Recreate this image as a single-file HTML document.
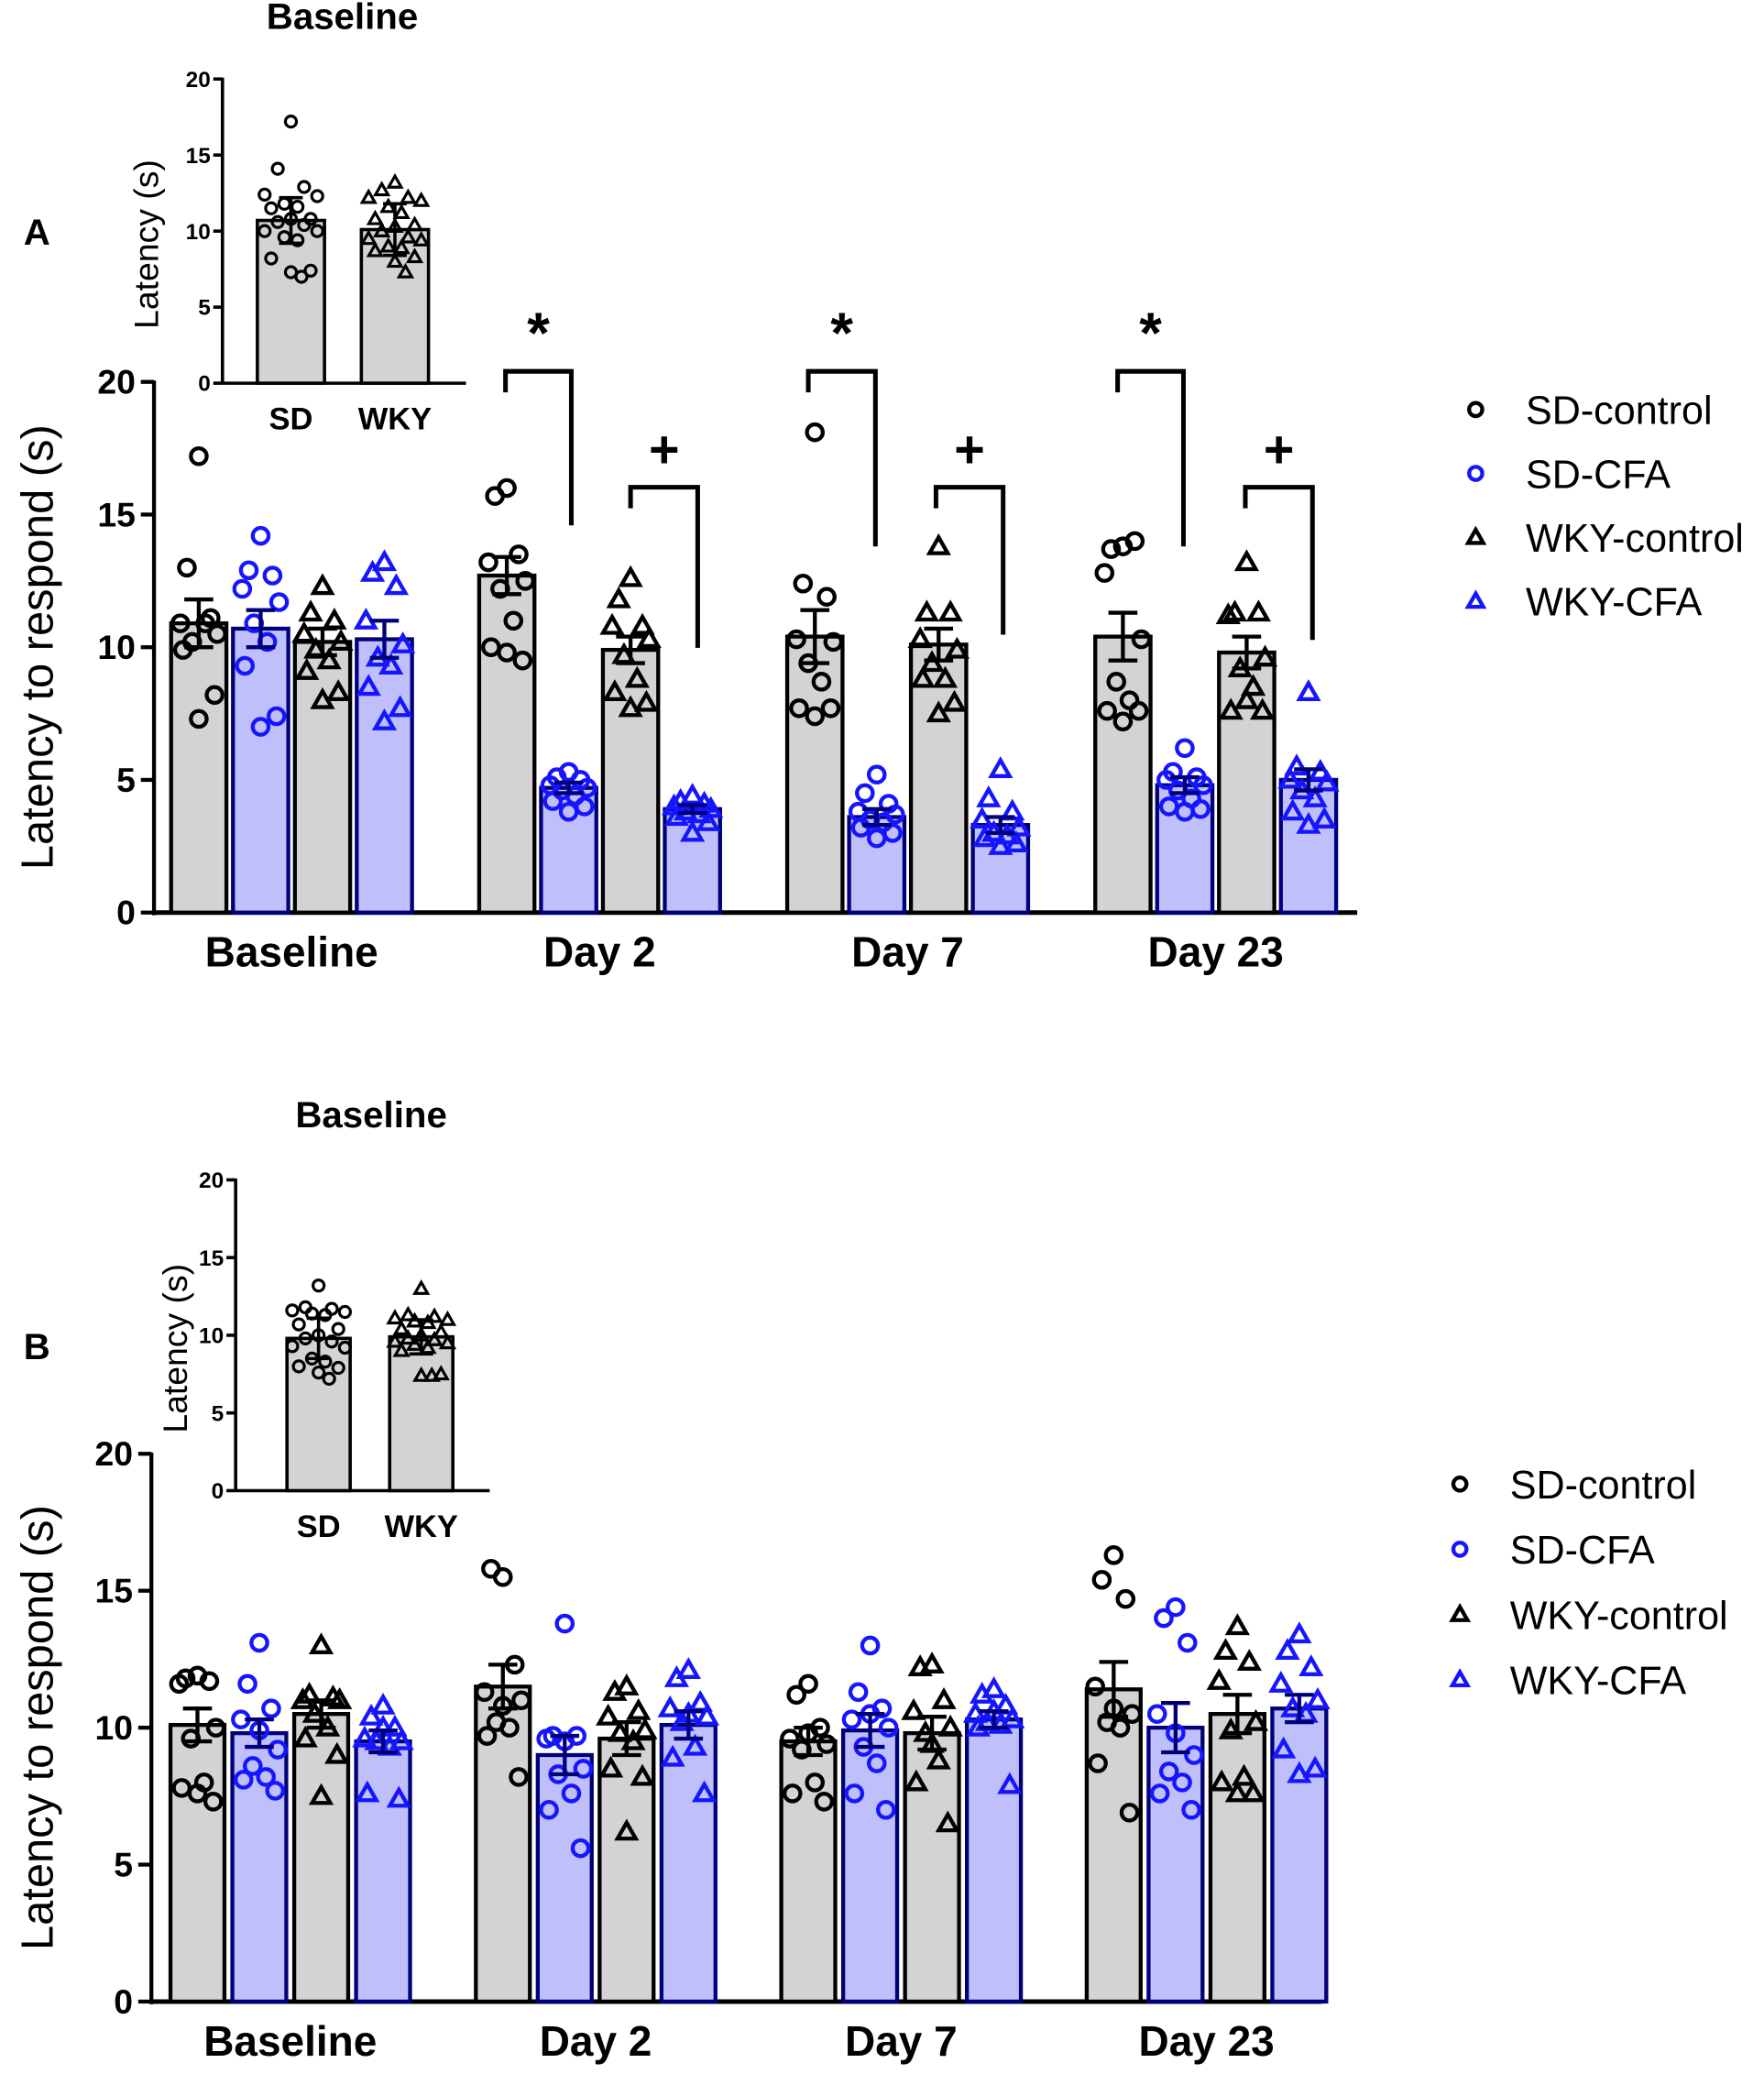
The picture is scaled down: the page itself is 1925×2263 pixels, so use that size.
<!DOCTYPE html>
<html><head><meta charset="utf-8"><style>
html,body{margin:0;padding:0;background:#fff;}
svg{display:block;}
text{font-family:"Liberation Sans",Arial,sans-serif;}
</style></head><body>
<svg id="fig" xmlns="http://www.w3.org/2000/svg" width="1925" height="2263" viewBox="0 0 1340 1575" preserveAspectRatio="none"></svg>
<script>
// ---- data ----
const categories = ["Baseline","Day 2","Day 7","Day 23"];
const groups = ["SD-control","SD-CFA","WKY-control","WKY-CFA"];
const yTicks = [0,5,10,15,20];
const meansA = [[10.9,10.7,10.2,10.3],[12.7,4.7,9.9,3.9],[10.4,3.6,10.1,3.3],[10.4,4.8,9.8,5.0]];
const semA = [[0.9,0.7,0.5,0.7],[0.7,0.2,0.5,0.15],[1.0,0.3,0.6,0.3],[0.9,0.3,0.6,0.4]];
const pointsA = [
 [[17.2,13,11.1,10.9,10.5,10.2,10.9,9.9,8.2,7.3],[14.2,12.9,12.7,12.2,11.7,10.9,10.2,9.3,7.4,7.0],[12.3,11.3,11.0,10.5,10.2,9.9,9.5,9.1,8.3,8.0],[13.2,12.8,12.3,11.0,10.1,9.6,9.3,8.5,7.7,7.2]],
 [[16.0,15.7,13.5,13.2,12.5,12.2,11.0,10.0,9.5,9.8],[5.3,5.1,5.0,4.8,4.7,4.6,4.4,4.2,4.0,3.8],[12.6,11.8,10.8,10.8,10.3,9.7,8.8,8.3,7.9,7.7],[4.4,4.2,4.1,4.0,3.9,3.8,3.7,3.6,3.4,3.0]],
 [[18.1,12.4,11.9,10.3,10.2,9.4,8.7,7.7,7.7,7.4],[5.2,4.5,4.1,3.8,3.7,3.5,3.4,3.2,3.0,2.8],[13.8,11.3,11.3,10.3,9.9,9.4,8.8,8.8,7.9,7.5],[5.4,4.3,3.8,3.5,3.2,3.0,2.9,2.8,2.6,2.5]],
 [[13.8,13.7,14.0,12.8,10.3,8.7,8.0,7.6,7.6,7.2],[6.2,5.3,5.1,5.0,4.8,4.6,4.3,4.0,3.9,3.8],[13.2,11.3,11.3,11.2,9.6,9.2,8.5,7.6,7.6,8.0],[8.3,5.5,5.3,5.0,4.9,4.6,4.3,3.8,3.5,3.3]]
];
const meansB = [[10.1,9.8,10.5,9.5],[11.5,9.0,9.6,10.1],[9.5,9.9,9.8,10.3],[11.4,10.0,10.5,10.7]];
const semB = [[0.6,0.5,0.5,0.4],[0.8,0.7,0.6,0.5],[0.5,0.6,0.6,0.3],[1.0,0.9,0.7,0.5]];
const pointsB = [
 [[11.9,11.8,11.7,11.6,10.0,9.6,8.0,7.8,7.3,7.6],[13.1,11.6,10.7,10.3,9.2,8.6,8.2,8.1,7.7,9.9],[13.0,11.2,11.1,11.0,11.0,10.5,10.0,9.6,9.0,7.5],[10.8,10.4,10.0,9.6,9.5,9.5,9.3,7.6,7.4,10.0]],
 [[15.5,15.8,12.3,11.3,11.0,10.2,10.0,9.7,8.2,10.8],[13.8,9.7,9.7,9.6,8.5,8.3,7.6,7.0,5.6,9.5],[11.5,11.3,10.6,10.4,9.9,9.8,9.5,8.5,8.2,6.2],[12.1,11.8,10.9,10.7,10.4,10.2,9.3,8.9,7.6,10.5]],
 [[11.6,11.2,10.0,9.6,9.4,9.2,8.0,7.6,7.3,9.8],[13.0,11.3,10.7,10.3,10.0,9.3,8.7,7.6,7.0,10.5],[12.3,12.2,11.0,10.6,10.0,9.8,8.8,8.0,6.5,9.4],[11.4,11.2,10.8,10.5,10.3,10.2,10.1,10.0,7.9,10.6]],
 [[16.3,15.4,14.7,11.5,10.5,10.2,10.0,8.7,6.9,10.7],[14.4,14.0,13.1,10.5,9.0,8.4,8.0,7.6,7.0,9.8],[13.7,12.8,12.4,11.7,10.2,9.9,8.2,8.0,7.6,7.6],[13.4,12.8,12.2,11.6,11.0,10.7,10.5,9.2,8.5,8.3]]
];
const insetLabels = ["SD","WKY"];
const insetMeansA = [10.7,10.1];
const insetSemA = [1.5,1.7];
const insetPtsA = [[17.2,14.1,12.9,12.4,12.3,11.8,11.6,11.5,10.8,10.8,10.6,10.4,10.0,10.0,9.6,9.4,8.2,7.4,7.3,7.0],[13.2,12.7,12.2,12.2,12.0,11.6,11.2,10.8,10.4,10.3,10.0,9.6,9.5,9.4,9.0,8.9,8.7,8.3,8.0,7.3]];
const insetMeansB = [9.8,9.9];
const insetSemB = [1.3,1.1];
const insetPtsB = [[13.2,11.8,11.7,11.6,11.5,11.4,11.3,10.7,10.4,10.0,9.8,9.6,9.3,9.2,8.5,8.3,8.0,7.9,7.6,7.2],[13.0,11.3,11.2,11.1,11.0,10.9,10.8,10.4,10.2,10.0,9.8,9.7,9.6,9.5,9.4,9.2,9.0,7.5,7.4,7.4]];

const NS="http://www.w3.org/2000/svg";
const svg=document.getElementById('fig');
function el(tag,attrs,parent){const e=document.createElementNS(NS,tag);for(const k in attrs)e.setAttribute(k,attrs[k]);(parent||svg).appendChild(e);return e;}
function txt(s,x,y,size,weight,anchor,parent){const t=el('text',{x:x,y:y,'font-size':size,'font-weight':weight||'normal','text-anchor':anchor||'middle'},parent);t.textContent=s;return t;}

const GRAY='#d3d3d3', LBLUE='#bfbffb', NAVY='#00007a', BLUE='#1515ff';
const jitter10=[0,-9,9,-14,14,-5,5,-12,12,0];
const jitter20=[0,-10,10,-20,20,-5,5,-15,15,0,-10,10,-20,20,-5,5,-15,15,0,8];

function marker(g,type,cx,cy,r,color,sw){
  let m;
  if(type==='circle'){m=el('circle',{cx:cx,cy:cy,r:r,fill:'none',stroke:color,'stroke-width':sw},g);}
  else{const h=r*1.15;m=el('polygon',{points:`${cx},${cy-h} ${cx-h},${cy+h*0.75} ${cx+h},${cy+h*0.75}`,fill:'none',stroke:color,'stroke-width':sw,'stroke-linejoin':'miter'},g);}
  return m;
}

function mainPanel(P){
  const g=el('g',{});
  
  
  const yS=v=>P.y0-(P.y0-P.y20)*v/20;
  const ax=el('g',{},g);
  
  
  el('line',{x1:P.ax,y1:P.y20-1,x2:P.ax,y2:P.y0+2,stroke:'#000','stroke-width':3},ax);
  yTicks.forEach(t=>{el('line',{x1:P.ax-10,y1:yS(t),x2:P.ax,y2:yS(t),stroke:'#000','stroke-width':3},ax);
    txt(String(t),P.ax-14,yS(t)+9,26,'bold','end',ax);});
  const xl=el('line',{x1:P.ax,y1:P.y0,x2:P.xend,y2:P.y0,stroke:'#000','stroke-width':3.5},g);
  
  
  const yt=txt('Latency to respond (s)',0,0,34,'normal','middle',g);
  yt.setAttribute('transform',`translate(${P.titleX},${(P.y0+P.y20)/2}) rotate(-90)`);
  
  
  categories.forEach((c,ci)=>{
    const gc=el('g',{},g);
    
    
    const base=P.start+ci*P.gstep;
    groups.forEach((gr,gi)=>{
      const cx=base+gi*P.bstep;
      const m=P.means[ci][gi], blue=gi%2===1;
      const b=el('rect',{x:cx-P.bw/2,y:yS(m),width:P.bw,height:P.y0-yS(m),fill:blue?LBLUE:GRAY,stroke:blue?NAVY:'#000','stroke-width':3},gc);
      
      
      const col=blue?BLUE:'#000';
      P.pts[ci][gi].forEach((v,i)=>{
        const mk=marker(gc,gi<2?'circle':'tri',cx+jitter10[i],yS(v),6,col,3);
        
        
      });
      const s=P.sem[ci][gi];
      const eb=el('path',{d:`M${cx},${yS(m+s)}V${yS(m-s)}M${cx-11},${yS(m+s)}H${cx+11}M${cx-11},${yS(m-s)}H${cx+11}`,stroke:blue?NAVY:'#000','stroke-width':3,fill:'none'},gc);
      
      
    });
    const cl=txt(c,base+1.5*P.bstep,P.y0+41,32,'bold','middle',gc);
    
    
  });
  return {g,yS};
}

function inset(I){
  const g=el('g',{});
  
  
  const yS=v=>I.y0-(I.y0-I.y20)*v/20;
  el('line',{x1:I.ax,y1:I.y20-1,x2:I.ax,y2:I.y0,stroke:'#000','stroke-width':2.5},g);
  el('line',{x1:I.ax,y1:I.y0,x2:I.xend,y2:I.y0,stroke:'#000','stroke-width':2.5},g);
  yTicks.forEach(t=>{el('line',{x1:I.ax-7,y1:yS(t),x2:I.ax,y2:yS(t),stroke:'#000','stroke-width':2.5},g);
    txt(String(t),I.ax-9,yS(t)+6,17,'bold','end',g);});
  const tt=txt('Baseline',I.titleX,I.titleY,28,'bold','middle',g);
  
  
  const yt=txt('Latency (s)',0,0,26,'normal','middle',g);
  yt.setAttribute('transform',`translate(${I.ylx},${(I.y0+I.y20)/2+10}) rotate(-90)`);
  
  
  insetLabels.forEach((l,i)=>{
    const cx=I.cx[i], m=I.means[i];
    const b=el('rect',{x:cx-I.bw/2,y:yS(m),width:I.bw,height:I.y0-yS(m),fill:GRAY,stroke:'#000','stroke-width':2.5},g);
    
    
    I.pts[i].forEach((v,j)=>{
      const mk=marker(g,i===0?'circle':'tri',cx+jitter20[j],yS(v),4.2,'#000',2.2);
      
      
    });
    const s=I.sem[i];
    el('path',{d:`M${cx},${yS(m+s)}V${yS(m-s)}M${cx-9},${yS(m+s)}H${cx+9}M${cx-9},${yS(m-s)}H${cx+9}`,stroke:'#000','stroke-width':2.5,fill:'none'},g);
    const lt=txt(l,cx,I.y0+35,24,'bold','middle',g);
    
    
  });
}

function legend(x,y0,dy,name){
  const g=el('g',{});
  
  
  groups.forEach((gr,i)=>{
    const y=y0+i*dy, blue=i%2===1;
    marker(g,i<2?'circle':'tri',x,y,5,blue?BLUE:'#000',3);
    const t=txt(gr,x+38,y+11,30,'normal','start',g);
    
    
  });
}

mainPanel({name:'panel-a',ax:117,y20:290,y0:693,xend:1031,start:151,gstep:234,bstep:47,bw:42,
  means:meansA,sem:semA,pts:pointsA,titleX:40});
function bracket(x1,x2,top,l,r,sym,sy){
  const b=el('path',{d:`M${x1},${l}V${top}H${x2}V${r}`,fill:'none',stroke:'#000','stroke-width':3.5});
  
  
  const t=txt(sym,(x1+x2)/2,sy,sym==='*'?44:40,'bold','middle');
  
  
}
bracket(384,434,282,298,399,'*',268);
bracket(479,530,370,386,492,'+',355);
bracket(614,665,282,298,415,'*',268);
bracket(711,762,370,386,482,'+',355);
bracket(849,899,282,298,415,'*',268);
bracket(946,997,370,386,486,'+',355);
legend(1121,311,48.5,'legend-a');
inset({name:'inset-a',ax:169,y20:60,y0:291,xend:354,cx:[221,300],bw:51,means:insetMeansA,sem:insetSemA,pts:insetPtsA,titleX:260,titleY:22,ylx:120});
const la=txt('A',28,186,28,'bold','middle');

mainPanel({name:'panel-b',ax:115,y20:1104,y0:1520,xend:1004,start:150,gstep:232,bstep:47,bw:41,
  means:meansB,sem:semB,pts:pointsB,titleX:40});
legend(1109,1127,49.5,'legend-b');
inset({name:'inset-b',ax:179,y20:896,y0:1132,xend:372,cx:[242,320],bw:48,means:insetMeansB,sem:insetSemB,pts:insetPtsB,titleX:282,titleY:856,ylx:142});
const lb=txt('B',28,1032,28,'bold','middle');
</script>
</body></html>
